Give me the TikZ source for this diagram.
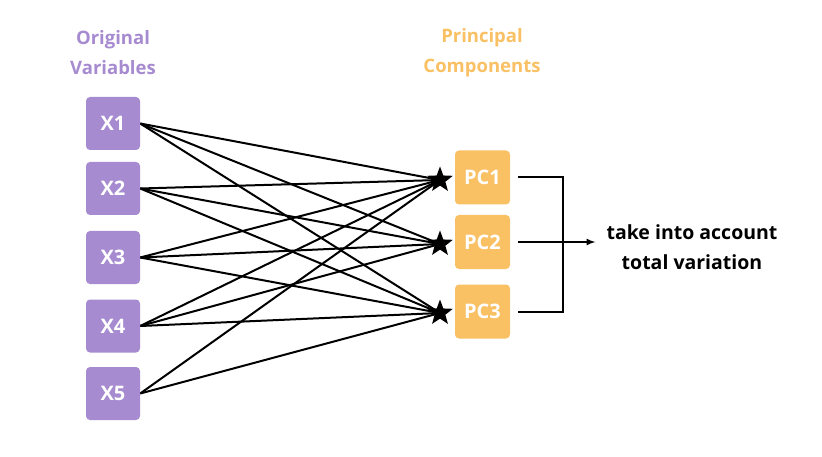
\documentclass[tikz,border=0pt]{standalone}
\usepackage{fontspec}
\setsansfont{Open Sans}
\usetikzlibrary{shapes, arrows, positioning, backgrounds}
\definecolor{MyPurple}{HTML}{A68BD0}
\definecolor{MyOrange}{HTML}{F9C064}
\tikzset{every picture/.style={/utils/exec={\sffamily}}}

\begin{document}
\begin{tikzpicture} [
			x=1pt, y=-1pt,
			every node/.style={font=\fontsize{20}{30}\selectfont\bfseries,align=center},
			var/.style={rectangle,minimum width=54, minimum height=53, fill=MyPurple,rounded corners=4,text=white},
			pc/.style={rectangle,minimum width=55, minimum height=54, fill=MyOrange,rounded corners=4,text=white,outer xsep=8},
			star/.style={shape=star,star points=5,star point ratio=2.4,fill=black,minimum size=27,inner sep=0},
			title/.style={font=\fontsize{18.5}{30}\selectfont\bfseries},
			link/.style={line width=2},
			legend/.style={font=\fontsize{19.5}{30}\selectfont\bfseries,inner sep=3}
		]
			\useasboundingbox (0,0) rectangle (822,457);
			\node at (113,53) [title,text=MyPurple] (titleVar) {Original\\Variables};
			\node at (482,53) [title,text=MyOrange] (titlePC) {Principal\\Components};
			\node at (113,123.5) [var] (nodeX1) {X1};
			\node at (113,188.5) [var] (nodeX2) {X2};
			\node at (113,257.5) [var] (nodeX3) {X3};
			\node at (113,326) [var] (nodeX4) {X4};
			\node at (113,393.5) [var] (nodeX5) {X5};
			\node at (482.5,177.5) [pc] (nodePC1) {PC1};
			\node at (482.5,242) [pc] (nodePC2) {PC2};
			\node at (482.5,311.5) [pc] (nodePC3) {PC3};
			\node at (440,180) [star] (starPC1) {};
			\node at (440,244) [star] (starPC2) {};
			\node at (440,313) [star] (starPC3) {};
			\coordinate (nodeJoin) at (563,241);
			\node at (692,247) [legend] (nodeTotal) {take into account\\total variation};
			\begin{scope}[on background layer]
				\path[link] (nodeX1.east) edge (starPC1.center) edge (starPC2.center) edge (starPC3.center);
				\path[link] (nodeX2.east) edge (starPC1.center) edge (starPC2.center) edge (starPC3.center);
				\path[link] (nodeX3.east) edge (starPC1.center) edge (starPC2.center) edge (starPC3.center);
				\path[link] (nodeX4.east) edge (starPC1.center) edge (starPC2.center) edge (starPC3.center);
				\path[link] (nodeX5.east) edge (starPC1.center) edge (starPC3.center);
			\end{scope}
			\draw[link] (nodePC1.east) -| (nodeJoin) |- (nodePC3.east);
			\draw[-latex, link, shorten >=8] (nodePC2.east) -- (nodeTotal.west|-nodePC2.east);
		\end{tikzpicture}
\end{document}
